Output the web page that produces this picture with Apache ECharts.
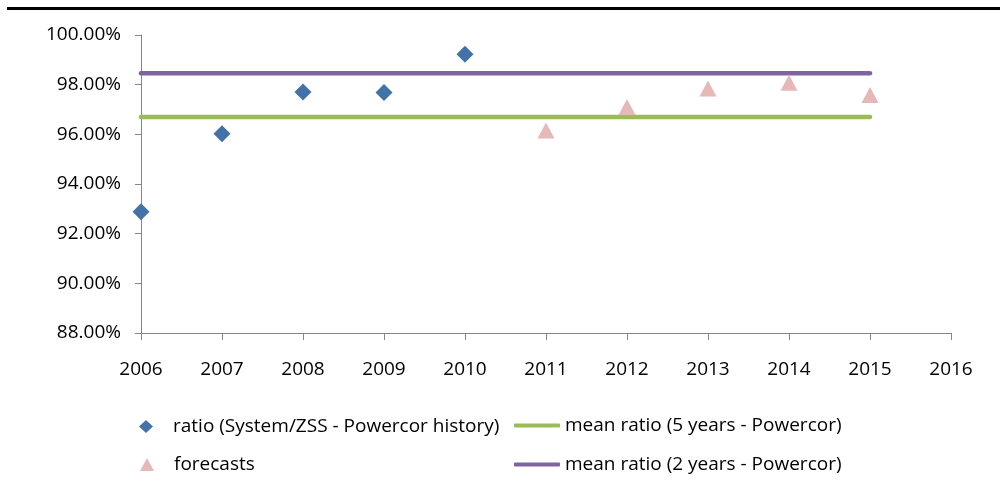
<!DOCTYPE html>
<html>
<head>
<meta charset="utf-8">
<script src="https://cdn.jsdelivr.net/npm/echarts@6/dist/echarts.min.js"></script>
<style>
html,body{margin:0;padding:0;background:#fff;}
#chart{width:1004px;height:493px;}
</style>
</head>
<body>
<div id="chart"></div>
<script>
// ---- data ----
const historyYears = [2006, 2007, 2008, 2009, 2010];
const historyRatio = [92.88, 96.02, 97.70, 97.68, 99.22];
const forecastYears = [2011, 2012, 2013, 2014, 2015];
const forecastRatio = [96.15, 97.10, 97.85, 98.08, 97.58];
const meanYears = [2006, 2015];
const mean5 = [96.70, 96.70];
const mean2 = [98.46, 98.46];
const seriesNames = [
  'ratio (System/ZSS - Powercor history)',
  'mean ratio (5 years - Powercor)',
  'forecasts',
  'mean ratio (2 years - Powercor)'
];
const xTicks = {min: 2006, max: 2016, interval: 1};
const yTicks = {min: 88, max: 100, interval: 2};

const pairs = (xs, ys) => xs.map((x, i) => [x, ys[i]]);
const FONT = 'Open Sans';
const FS = 19;
const axisColor = '#868686';

const chart = echarts.init(document.getElementById('chart'), null, {renderer: 'canvas'});
const legendBase = {
  orient: 'horizontal',
  itemGap: 0,
  textStyle: {fontFamily: FONT, fontSize: FS, color: '#000', rich: {gap: {width: 15}}},
  selectedMode: false,
  padding: 0
};
const gapFmt = n => '{gap|}' + n;
chart.setOption({
  animation: false,
  backgroundColor: '#fff',
  textStyle: {fontFamily: FONT},
  grid: {left: 141, right: 53, top: 35, bottom: 160, containLabel: false},
  graphic: [
    {type: 'rect', shape: {x: 7, y: 7, width: 993, height: 3}, style: {fill: '#000'}}
  ],
  legend: [
    Object.assign({}, legendBase, {left: 139, top: 417, data: [{name: seriesNames[0], icon: 'diamond'}], itemWidth: 14, itemHeight: 13, formatter: gapFmt}),
    Object.assign({}, legendBase, {left: 514, top: 416, data: [{name: seriesNames[1], icon: 'roundRect'}], itemWidth: 46, itemHeight: 4}),
    Object.assign({}, legendBase, {left: 140, top: 455, data: [{name: seriesNames[2], icon: 'triangle'}], itemWidth: 14, itemHeight: 13, formatter: gapFmt}),
    Object.assign({}, legendBase, {left: 514, top: 455, data: [{name: seriesNames[3], icon: 'roundRect'}], itemWidth: 46, itemHeight: 4})
  ],
  xAxis: {
    type: 'value',
    min: xTicks.min, max: xTicks.max, interval: xTicks.interval,
    axisLine: {show: true, onZero: false, lineStyle: {color: axisColor, width: 1}},
    axisTick: {show: true, length: 7, lineStyle: {color: axisColor}},
    splitLine: {show: false},
    axisLabel: {fontFamily: FONT, fontSize: FS, color: '#000', margin: 27, formatter: v => String(v)}
  },
  yAxis: {
    type: 'value',
    min: yTicks.min, max: yTicks.max, interval: yTicks.interval,
    axisLine: {show: true, lineStyle: {color: axisColor, width: 1}},
    axisTick: {show: true, length: 6, lineStyle: {color: axisColor}},
    splitLine: {show: false},
    axisLabel: {fontFamily: FONT, fontSize: FS, color: '#000', margin: 20, formatter: v => v.toFixed(2) + '%'}
  },
  series: [
    {
      name: seriesNames[0], type: 'scatter', symbol: 'diamond', symbolSize: 17,
      itemStyle: {color: '#4372A8', opacity: 1}, data: pairs(historyYears, historyRatio), z: 5
    },
    {
      name: seriesNames[1], type: 'line', showSymbol: false, symbol: 'none',
      lineStyle: {color: '#9BBB59', width: 4.5, cap: 'round'}, itemStyle: {color: '#9BBB59'},
      data: pairs(meanYears, mean5), z: 3
    },
    {
      name: seriesNames[2], type: 'scatter', symbol: 'triangle', symbolSize: [17, 16],
      itemStyle: {color: '#E6B8B7', opacity: 1}, data: pairs(forecastYears, forecastRatio), z: 4
    },
    {
      name: seriesNames[3], type: 'line', showSymbol: false, symbol: 'none',
      lineStyle: {color: '#8064A2', width: 4.5, cap: 'round'}, itemStyle: {color: '#8064A2'},
      data: pairs(meanYears, mean2), z: 3
    }
  ]
});
</script>
</body>
</html>
